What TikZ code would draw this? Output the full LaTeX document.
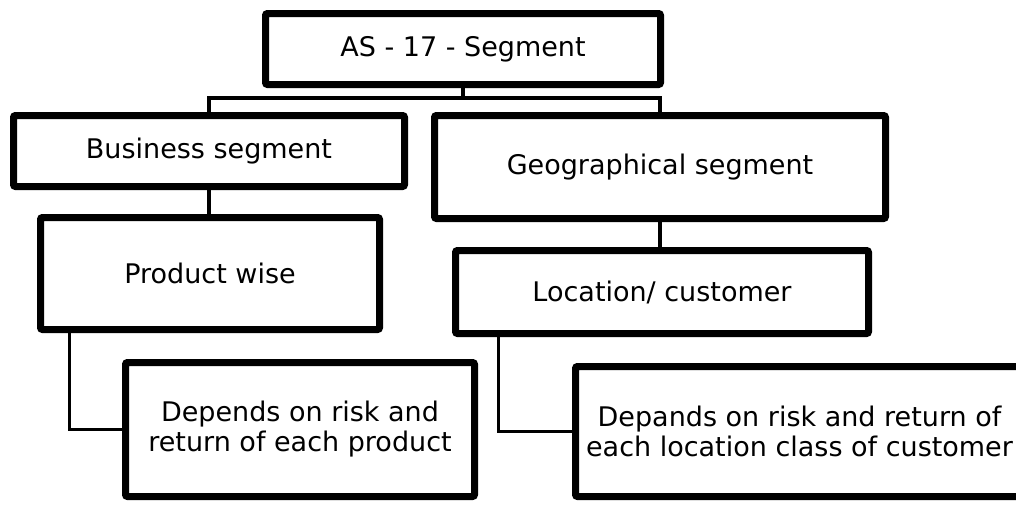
\documentclass[tikz,border=0pt]{standalone}
\usepackage{fontspec}
\setmainfont{DejaVu Sans}
\usetikzlibrary{shadows}
\begin{document}
\begin{tikzpicture}[x=1pt,y=-1pt,
  box/.style={draw=black, line width=7pt, fill=white, rounded corners=2pt,
    align=center, inner sep=0pt, font=\fontsize{27}{30}\selectfont,
    drop shadow={opacity=0.25, shadow xshift=2pt, shadow yshift=-2pt, fill=black}},
  link/.style={draw=black, line width=3.5pt}]
\useasboundingbox (0,0) rectangle (1016,504);
\node[box, minimum width=395pt, minimum height=71pt] (top) at (463,49) {AS - 17 - Segment};
\node[box, minimum width=391pt, minimum height=71pt] (biz) at (209,151) {Business segment};
\node[box, minimum width=451pt, minimum height=103pt] (geo) at (660,167) {Geographical segment};
\node[box, minimum width=339pt, minimum height=112pt] (prod) at (210,273.5) {Product wise};
\node[box, minimum width=413pt, minimum height=83pt] (loc) at (662,292) {Location/ customer};
\node[box, minimum width=349pt, minimum height=134pt] (dep1) at (300,429.5) {Depends on risk and\\return of each product};
\node[box, minimum width=448pt, minimum height=130pt] (dep2) at (799.5,431.5) {Depands on risk and return of\\each location class of customer};
\coordinate (busy) at (0,98);
\draw[link] (top.south) -- (top.south |- busy);
\draw[link] (biz.north) -- (biz.north |- busy) -- (geo.north |- busy) -- (geo.north);
\draw[link] (biz.south) -- (biz.south |- prod.north);
\draw[link] (geo.south) -- (geo.south |- loc.north);
\draw[link] ([xshift=32.5pt]prod.south west) |- (dep1.west);
\draw[link] ([xshift=46.5pt]loc.south west) |- (dep2.west);
\end{tikzpicture}
\end{document}
